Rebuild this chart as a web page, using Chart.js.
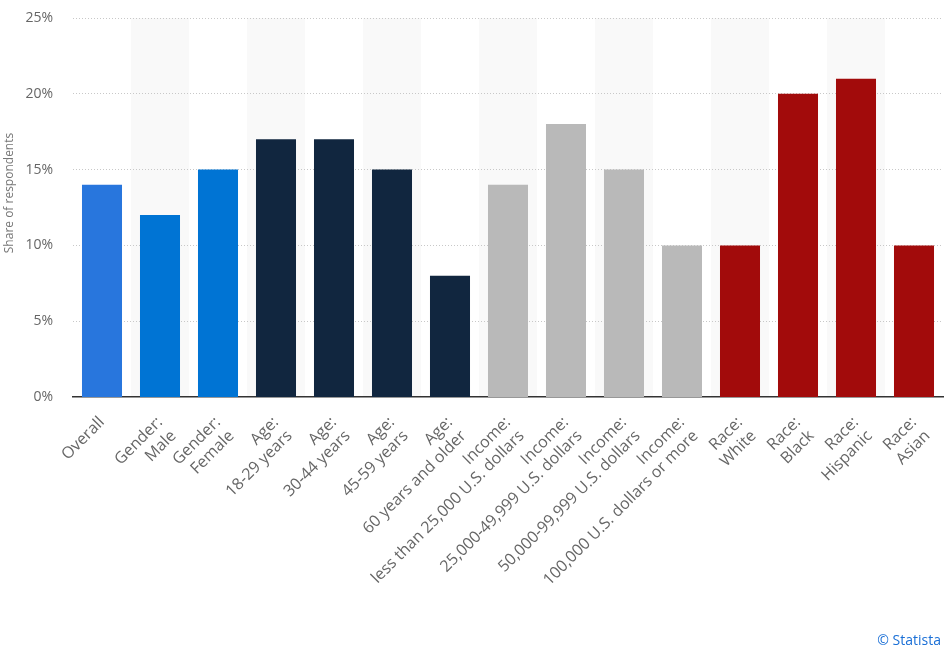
<!DOCTYPE html>
<html>
<head>
<meta charset="utf-8">
<title>Share of respondents</title>
<script src="https://cdn.jsdelivr.net/npm/chart.js@4.4.1/dist/chart.umd.min.js"></script>
<style>
    body { margin: 0; background: #fff; }
    #wrap { position: relative; width: 945px; height: 650px; }
    #credit {
        position: absolute; right: 4px; bottom: 1px;
        font: 14px "Open Sans", sans-serif; color: #1a6fd6;
    }
</style>
</head>
<body>
<div id="wrap">
    <canvas id="chart" width="945" height="650"></canvas>
    <div id="credit">© Statista</div>
</div>
<script>
const categories = [
    ["Overall"],
    ["Gender:", "Male"],
    ["Gender:", "Female"],
    ["Age:", "18-29 years"],
    ["Age:", "30-44 years"],
    ["Age:", "45-59 years"],
    ["Age:", "60 years and older"],
    ["Income:", "less than 25,000 U.S. dollars"],
    ["Income:", "25,000-49,999 U.S. dollars"],
    ["Income:", "50,000-99,999 U.S. dollars"],
    ["Income:", "100,000 U.S. dollars or more"],
    ["Race:", "White"],
    ["Race:", "Black"],
    ["Race:", "Hispanic"],
    ["Race:", "Asian"],
];
const groups = ["overall", "gender", "gender", "age", "age", "age", "age",
    "income", "income", "income", "income", "race", "race", "race", "race"];
const shares = [14, 12, 15, 17, 17, 15, 8, 14, 18, 15, 10, 10, 20, 21, 10];
const yTicks = [0, 5, 10, 15, 20, 25];
const yTitle = "Share of respondents";

const groupColors = {
    overall: "#2876dd",
    gender: "#0074d4",
    age: "#11263f",
    income: "#b9b9b9",
    race: "#a20b0b",
};
const FONT = "'Open Sans', sans-serif";

// light stripes behind every other category, plus the rotated axis title
const decor = {
    id: "decor",
    beforeDraw(chart) {
        const { ctx, chartArea, scales } = chart;
        const half = (scales.x.getPixelForValue(1) - scales.x.getPixelForValue(0)) / 2;
        ctx.save();
        ctx.fillStyle = "#f9f9f9";
        categories.forEach((c, i) => {
            if (i % 2 === 1) {
                const x = scales.x.getPixelForValue(i);
                ctx.fillRect(x - half, chartArea.top, half * 2, chartArea.bottom - chartArea.top);
            }
        });
        ctx.restore();
    },
    afterDraw(chart) {
        const ctx = chart.ctx;
        ctx.save();
        ctx.translate(10, 193);
        ctx.rotate(-Math.PI / 2);
        ctx.fillStyle = "#777";
        ctx.font = "12px " + FONT;
        ctx.textAlign = "center";
        ctx.textBaseline = "middle";
        ctx.fillText(yTitle, 0, 0);
        ctx.restore();
    },
};

new Chart(document.getElementById("chart"), {
    type: "bar",
    data: {
        labels: categories,
        datasets: [{
            data: shares,
            backgroundColor: groups.map((g) => groupColors[g]),
            categoryPercentage: 1,
            barPercentage: 0.69,
        }],
    },
    options: {
        responsive: false,
        animation: false,
        layout: { padding: { top: 18, right: 2, left: 0, bottom: 0 } },
        plugins: { legend: { display: false }, tooltip: { enabled: false } },
        scales: {
            x: {
                grid: { display: false, drawTicks: false },
                border: { display: true, color: "#333", width: 1.5 },
                ticks: {
                    autoSkip: false,
                    minRotation: 45,
                    maxRotation: 45,
                    padding: 16,
                    color: "#666",
                    font: { family: FONT, size: 16 },
                },
                afterFit(scale) {
                    scale.height = 253;
                    scale.paddingLeft = 0;
                    scale.paddingRight = 0;
                },
            },
            y: {
                min: 0,
                max: 25,
                afterBuildTicks(scale) { scale.ticks = yTicks.map((v) => ({ value: v })); },
                grid: { color: "#c8c8c8", drawTicks: false, lineWidth: (c) => (c.tick.value === 0 ? 0 : 1) },
                border: { display: false, dash: [1, 2] },
                ticks: {
                    padding: 20,
                    color: "#666",
                    font: { family: FONT, size: 14 },
                    callback: (v) => v + "%",
                },
                afterFit(scale) {
                    scale.width = 73;
                    scale.paddingTop = 0;
                    scale.paddingBottom = 0;
                },
            },
        },
    },
    plugins: [decor],
});
</script>
</body>
</html>
